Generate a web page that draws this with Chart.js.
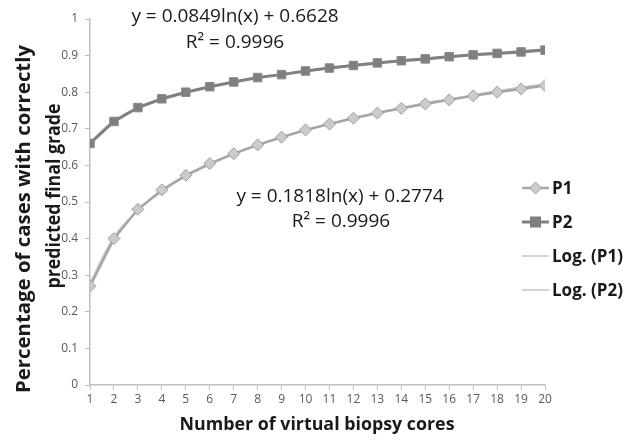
<!DOCTYPE html>
<html>
<head>
<meta charset="utf-8">
<script src="https://cdn.jsdelivr.net/npm/chart.js@4"></script>
<style>
  html, body { margin: 0; padding: 0; background: #fff; }
  #wrap { width: 634px; height: 441px; position: relative; }
</style>
</head>
<body>
<div id="wrap"><canvas id="c" width="634" height="441"></canvas></div>
<script>
// number of virtual biopsy cores
var cores = [1, 2, 3, 4, 5, 6, 7, 8, 9, 10, 11, 12, 13, 14, 15, 16, 17, 18, 19, 20];
var p1 = [0.27, 0.40, 0.48, 0.533, 0.573, 0.605, 0.632, 0.656, 0.677, 0.697, 0.713, 0.729, 0.743, 0.756, 0.768, 0.779, 0.790, 0.800, 0.809, 0.818];
var p2 = [0.66, 0.72, 0.758, 0.782, 0.800, 0.815, 0.828, 0.840, 0.848, 0.858, 0.866, 0.873, 0.880, 0.886, 0.891, 0.897, 0.902, 0.906, 0.910, 0.915];
// log trendlines (nearly on top of the data)
var logP1 = [0.277, 0.403, 0.477, 0.529, 0.570, 0.603, 0.631, 0.655, 0.677, 0.696, 0.713, 0.729, 0.744, 0.757, 0.770, 0.781, 0.792, 0.803, 0.813, 0.822];
var logP2 = [0.663, 0.722, 0.756, 0.780, 0.799, 0.815, 0.828, 0.839, 0.849, 0.858, 0.866, 0.874, 0.881, 0.887, 0.893, 0.898, 0.903, 0.908, 0.913, 0.917];
var eq2 = ['y = 0.0849ln(x) + 0.6628', 'R\u00b2 = 0.9996'];
var eq1 = ['y = 0.1818ln(x) + 0.2774', 'R\u00b2 = 0.9996'];
var xTitle = 'Number of virtual biopsy cores';
var yTitle = ['Percentage of cases with correctly', 'predicted final grade'];

function pts(arr) {
    return arr.map(function (v, i) { return { x: cores[i], y: v }; });
}

var axisGray = '#bfbfbf';
var textBlack = '#1a1a1a';
var tickFont = { family: 'Open Sans', size: 12 };

// text stretched to a given length (the original is a bit stretched)
function fitText(ctx, txt, cx, cy, len, rot) {
    ctx.save();
    ctx.translate(cx, cy);
    if (rot) ctx.rotate(-Math.PI / 2);
    var w = ctx.measureText(txt).width;
    ctx.scale(len / w, 1);
    ctx.fillText(txt, 0, 0);
    ctx.restore();
}

// equations, axis titles + legend drawn on top, like the Excel text boxes
var overlay = {
    id: 'overlay',
    afterDraw: function (chart) {
        var ctx = chart.ctx;
        ctx.save();
        ctx.fillStyle = textBlack;
        ctx.textAlign = 'center';
        ctx.textBaseline = 'middle';
        ctx.font = '19px "Open Sans"';
        ctx.fillText(eq2[0], 235, 17);
        ctx.fillText(eq2[1], 235, 43);
        ctx.fillText(eq1[0], 340, 197);
        ctx.fillText(eq1[1], 341, 222);

        ctx.font = 'bold 18px "Open Sans"';
        fitText(ctx, xTitle, 317, 425, 275, false);
        ctx.font = 'bold 20px "Open Sans"';
        fitText(ctx, yTitle[0], 24, 219, 348, true);
        fitText(ctx, yTitle[1], 54, 196, 185, true);

        var items = [
            { label: 'P1', y: 188, color: '#a6a6a6', w: 2.5, marker: 'diamond' },
            { label: 'P2', y: 222, color: '#808080', w: 3, marker: 'square' },
            { label: 'Log. (P1)', y: 256, color: '#c4c4c4', w: 1.5 },
            { label: 'Log. (P2)', y: 290, color: '#c4c4c4', w: 1.5 }
        ];
        ctx.textAlign = 'left';
        ctx.font = 'bold 17px "Open Sans"';
        items.forEach(function (it) {
            ctx.strokeStyle = it.color;
            ctx.lineWidth = it.w;
            ctx.beginPath();
            ctx.moveTo(522, it.y);
            ctx.lineTo(549, it.y);
            ctx.stroke();
            if (it.marker === 'diamond') {
                ctx.fillStyle = '#cbcbcb';
                ctx.strokeStyle = '#a0a0a0';
                ctx.lineWidth = 1;
                ctx.beginPath();
                ctx.moveTo(535.5, it.y - 6);
                ctx.lineTo(541.5, it.y);
                ctx.lineTo(535.5, it.y + 6);
                ctx.lineTo(529.5, it.y);
                ctx.closePath();
                ctx.fill();
                ctx.stroke();
            } else if (it.marker === 'square') {
                ctx.fillStyle = '#7f7f7f';
                ctx.fillRect(530, it.y - 5.5, 11, 11);
            }
            ctx.fillStyle = textBlack;
            ctx.fillText(it.label, 552, it.y + 1);
        });
        ctx.restore();
    }
};

new Chart(document.getElementById('c'), {
    type: 'line',
    data: {
        datasets: [
            {
                label: 'P1',
                data: pts(p1),
                borderColor: '#a6a6a6',
                borderWidth: 2.5,
                pointStyle: 'rectRot',
                pointRadius: 6,
                pointBackgroundColor: '#cbcbcb',
                pointBorderColor: '#a0a0a0',
                pointBorderWidth: 1,
                tension: 0,
                order: 0
            },
            {
                label: 'P2',
                data: pts(p2),
                borderColor: '#808080',
                borderWidth: 3,
                pointStyle: 'rect',
                pointRadius: 6,
                pointBackgroundColor: '#7f7f7f',
                pointBorderColor: '#8a8a8a',
                pointBorderWidth: 1,
                tension: 0,
                order: 0
            },
            {
                label: 'Log. (P1)',
                data: pts(logP1),
                borderColor: '#c4c4c4',
                borderWidth: 2,
                pointRadius: 0,
                tension: 0.4,
                order: 1
            },
            {
                label: 'Log. (P2)',
                data: pts(logP2),
                borderColor: '#c4c4c4',
                borderWidth: 2,
                pointRadius: 0,
                tension: 0.4,
                order: 1
            }
        ]
    },
    options: {
        responsive: false,
        animation: false,
        layout: { padding: { top: 19, right: 89, left: 0, bottom: 0 } },
        plugins: { legend: { display: false }, tooltip: { enabled: false } },
        scales: {
            x: {
                type: 'linear',
                min: 1,
                max: 20,
                afterFit: function (s) { s.height = 56; },
                ticks: { stepSize: 1, color: '#595959', font: tickFont, padding: 2 },
                grid: { drawOnChartArea: false, color: axisGray, tickLength: 5 },
                border: { color: axisGray, width: 1.5 }
            },
            y: {
                min: 0,
                max: 1,
                afterFit: function (s) { s.width = 90; },
                ticks: {
                    stepSize: 0.1,
                    color: '#595959',
                    font: tickFont,
                    padding: 7,
                    callback: function (v) { return String(Number(v.toFixed(1))); }
                },
                grid: { drawOnChartArea: false, color: axisGray, tickLength: 5 },
                border: { color: axisGray, width: 1.5 }
            }
        }
    },
    plugins: [overlay]
});
</script>
</body>
</html>
